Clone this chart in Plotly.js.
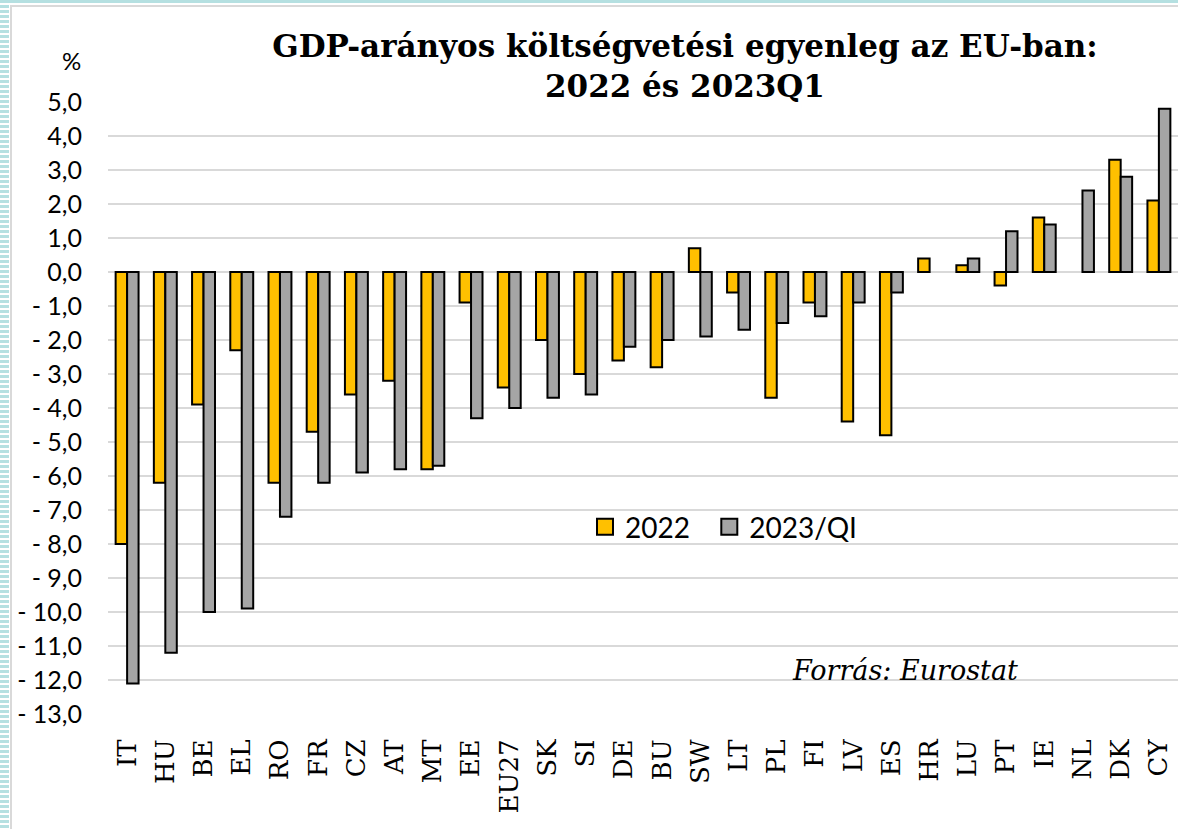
<!DOCTYPE html>
<html>
<head>
<meta charset="utf-8">
<script src="https://cdn.plot.ly/plotly-3.0.1.min.js"></script>
<style>
  html, body { margin: 0; padding: 0; background: #ffffff; }
  #wrap { position: relative; width: 1178px; height: 829px; overflow: hidden; background: #ffffff; }
  #chart { position: absolute; left: 0; top: 0; width: 1178px; height: 829px; }
  .deco { position: absolute; pointer-events: none; }
  #stripes { left: 0; top: 0; width: 9px; height: 829px;
    background: repeating-linear-gradient(to bottom, #b5e0e1 0px, #b5e0e1 3px, #ffffff 3px, #ffffff 5px); }
  #topstrip { left: 0; top: 0; width: 1178px; height: 3px; background: #b5e0e1; }
  #vline { left: 10px; top: 5px; width: 2px; height: 824px; background: #d9d9d9; }
  #hline { left: 10px; top: 5px; width: 1168px; height: 2px; background: #d9d9d9; }
</style>
</head>
<body>
<div id="wrap">
  <div id="chart"></div>
  <div class="deco" id="stripes"></div>
  <div class="deco" id="topstrip"></div>
  <div class="deco" id="vline"></div>
  <div class="deco" id="hline"></div>
</div>
<script>
const categories = ['IT','HU','BE','EL','RO','FR','CZ','AT','MT','EE','EU27','SK','SI','DE','BU','SW','LT','PL','FI','LV','ES','HR','LU','PT','IE','NL','DK','CY'];
const values2022 = [-8.0,-6.2,-3.9,-2.3,-6.2,-4.7,-3.6,-3.2,-5.8,-0.9,-3.4,-2.0,-3.0,-2.6,-2.8,0.7,-0.6,-3.7,-0.9,-4.4,-4.8,0.4,0.2,-0.4,1.6,null,3.3,2.1];
const values2023Q1 = [-12.1,-11.2,-10.0,-9.9,-7.2,-6.2,-5.9,-5.8,-5.7,-4.3,-4.0,-3.7,-3.6,-2.2,-2.0,-1.9,-1.7,-1.5,-1.3,-0.9,-0.6,null,0.4,1.2,1.4,2.4,2.8,4.8];
const seriesNames = ['2022','2023/QI'];
const seriesColors = ['#FFC000','#A5A5A5'];
const yTickValues = [5,4,3,2,1,0,-1,-2,-3,-4,-5,-6,-7,-8,-9,-10,-11,-12,-13];
const yTickLabels = ['5,0','4,0','3,0','2,0','1,0','0,0','-\u00a01,0','-\u00a02,0','-\u00a03,0','-\u00a04,0','-\u00a05,0','-\u00a06,0','-\u00a07,0','-\u00a08,0','-\u00a09,0','-\u00a010,0','-\u00a011,0','-\u00a012,0','-\u00a013,0'];
const titleText = '<b>GDP-arányos költségvetési egyenleg az EU-ban:<br>2022 és 2023Q1</b>';
const sourceText = 'Forrás: Eurostat';

const serif = "'DejaVu Serif', 'Liberation Serif', serif";
const sans = "Lato, 'Open Sans', sans-serif";
const legendPad = '\u00a0\u00a0';

const traces = [
  { type: 'bar', name: seriesNames[0], x: categories, y: values2022, showlegend: false,
    marker: { color: seriesColors[0], line: { color: '#000000', width: 2 } } },
  { type: 'bar', name: seriesNames[1], x: categories, y: values2023Q1, showlegend: false,
    marker: { color: seriesColors[1], line: { color: '#000000', width: 2 } } },
  // legend keys (square keys like the original)
  { type: 'scatter', mode: 'markers', name: seriesNames[0] + legendPad, x: [null], y: [null],
    marker: { symbol: 'square', size: 16, color: seriesColors[0], line: { color: '#000000', width: 2 } } },
  { type: 'scatter', mode: 'markers', name: seriesNames[1], x: [null], y: [null],
    marker: { symbol: 'square', size: 16, color: seriesColors[1], line: { color: '#000000', width: 2 } } }
];

const layout = {
  width: 1178, height: 829,
  paper_bgcolor: 'rgba(0,0,0,0)', plot_bgcolor: 'rgba(0,0,0,0)',
  margin: { l: 108, r: 0, t: 102, b: 115 },
  barmode: 'group', bargap: 0.4, bargroupgap: 0,
  showlegend: true,
  title: { text: titleText, xref: 'container', x: 685/1178, xanchor: 'center',
           yref: 'container', y: 1 - 57/829, yanchor: 'top',
           font: { family: serif, size: 31, color: '#000000' } },
  xaxis: {
    type: 'category', tickangle: -90, showgrid: false, zeroline: false, showline: false,
    ticks: 'outside', ticklen: 14, tickcolor: 'rgba(0,0,0,0)',
    tickfont: { family: serif, size: 26, color: '#000000' }, fixedrange: true
  },
  yaxis: {
    range: [-13, 5], tickmode: 'array', tickvals: yTickValues, ticktext: yTickLabels,
    showgrid: true, gridcolor: '#D9D9D9', gridwidth: 2, zeroline: false, showline: false,
    ticks: 'outside', ticklen: 20, tickcolor: 'rgba(0,0,0,0)',
    tickfont: { family: sans, size: 25, color: '#000000' }, fixedrange: true
  },
  legend: {
    orientation: 'h', x: (585-108)/1070, xanchor: 'left', y: (714-527)/612, yanchor: 'middle',
    bgcolor: 'rgba(0,0,0,0)', font: { family: sans, size: 28, color: '#000000' }
  },
  annotations: [
    { text: sourceText, xref: 'paper', yref: 'paper', x: (905-108)/1070, y: (714-670)/612,
      xanchor: 'center', yanchor: 'middle', showarrow: false,
      font: { family: serif, size: 27, color: '#000000', style: 'italic' } },
    { text: '%', xref: 'paper', yref: 'paper', x: (71-108)/1070, y: (714-60)/612,
      xanchor: 'center', yanchor: 'middle', showarrow: false,
      font: { family: sans, size: 24, color: '#000000' } }
  ]
};

Plotly.newPlot('chart', traces, layout, { displayModeBar: false, staticPlot: true });
</script>
</body>
</html>
